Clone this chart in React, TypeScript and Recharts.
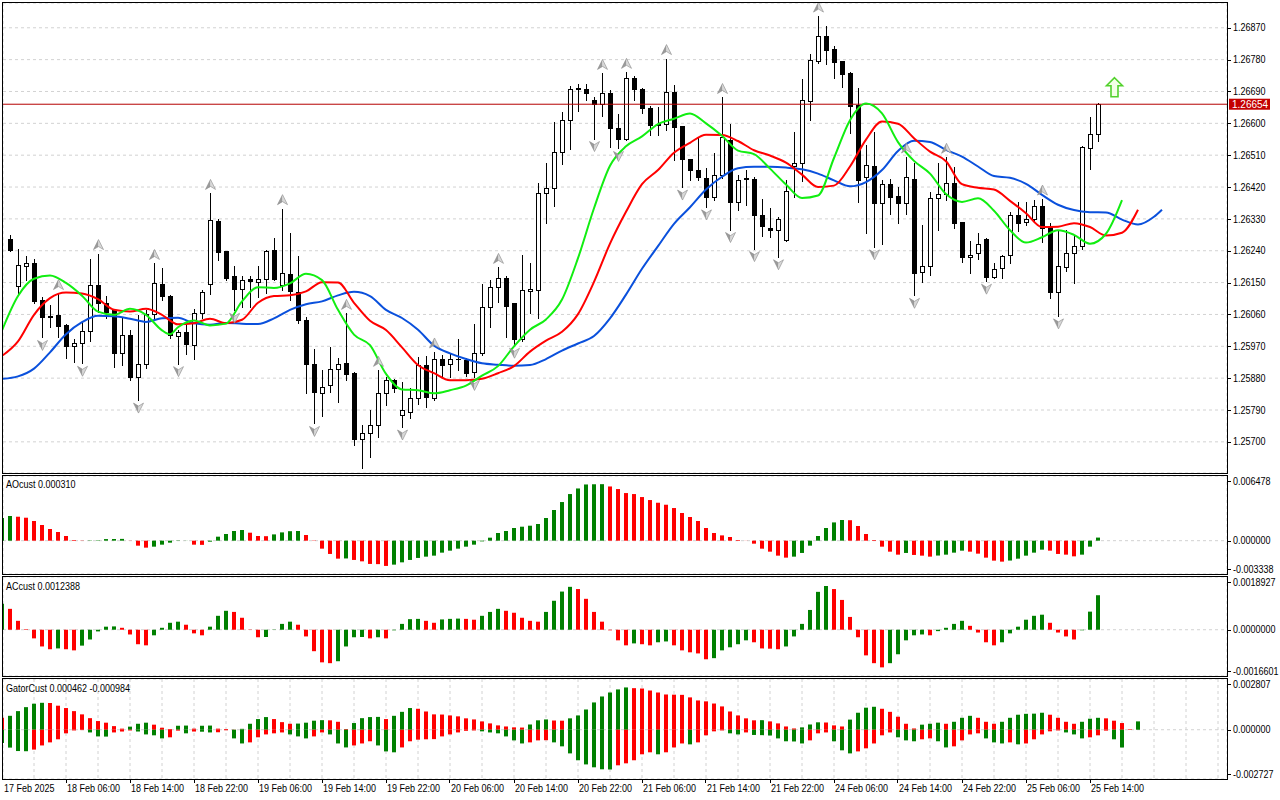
import React from 'react';
import {
  ComposedChart, Bar, Line, Scatter, XAxis, YAxis, CartesianGrid, ReferenceLine, Cell,
} from 'recharts';

const FONT = '"Liberation Sans", Arial, Helvetica, sans-serif';
const GRID = '#d2d2d2';
const HIST_GREEN = '#008000';
const HIST_RED = '#ff0000';

// ---------- H1 candles, bar index i = 1..137 ----------
const OPEN = [
  1.26273, 1.26139, 1.26198, 1.26204, 1.26100, 1.26057, 1.26058, 1.26030, 1.25971, 1.25978,
  1.26012, 1.26143, 1.26091, 1.26072, 1.25952, 1.26001, 1.25882, 1.25921, 1.26061, 1.26147,
  1.26113, 1.26000, 1.26009, 1.25975, 1.26063, 1.26145, 1.26324, 1.26239, 1.26168, 1.26131,
  1.26160, 1.26153, 1.26160, 1.26241, 1.26142, 1.26174, 1.26124, 1.26043, 1.25919, 1.25839,
  1.25860, 1.25907, 1.25922, 1.25895, 1.25707, 1.25724, 1.25749, 1.25839, 1.25876, 1.25775,
  1.25783, 1.25825, 1.25917, 1.25825, 1.25935, 1.25919, 1.25935, 1.25931, 1.25898, 1.25950,
  1.26080, 1.26138, 1.26164, 1.26091, 1.25990, 1.26127, 1.26130, 1.26402, 1.26416, 1.26518,
  1.26609, 1.26696, 1.26698, 1.26665, 1.26656, 1.26687, 1.26587, 1.26555, 1.26727, 1.26698,
  1.26642, 1.26598, 1.26598, 1.26689, 1.26592, 1.26498, 1.26468, 1.26446, 1.26392, 1.26454,
  1.26552, 1.26378, 1.26446, 1.26444, 1.26342, 1.26303, 1.26300, 1.26270, 1.26479, 1.26487,
  1.26662, 1.26776, 1.26846, 1.26810, 1.26776, 1.26743, 1.26651, 1.26447, 1.26479, 1.26376,
  1.26428, 1.26394, 1.26374, 1.26444, 1.26180, 1.26197, 1.26388, 1.26399, 1.26430, 1.26320,
  1.26221, 1.26235, 1.26272, 1.26166, 1.26190, 1.26227, 1.26342, 1.26320, 1.26329, 1.26366,
  1.26307, 1.26124, 1.26194, 1.26235, 1.26254, 1.26529, 1.26571,
];
const HIGH = [
  1.26284, 1.26244, 1.26225, 1.26218, 1.26109, 1.26086, 1.26119, 1.26032, 1.25992, 1.26039,
  1.26218, 1.26232, 1.26112, 1.26074, 1.26049, 1.26015, 1.26058, 1.26072, 1.26204, 1.26190,
  1.26114, 1.26015, 1.26034, 1.26074, 1.26130, 1.26402, 1.26331, 1.26240, 1.26196, 1.26168,
  1.26168, 1.26196, 1.26242, 1.26277, 1.26359, 1.26291, 1.26224, 1.26053, 1.25961, 1.25904,
  1.25967, 1.25938, 1.26063, 1.25897, 1.25747, 1.25789, 1.25902, 1.25882, 1.25877, 1.25869,
  1.25851, 1.25940, 1.25942, 1.25954, 1.25945, 1.25951, 1.25992, 1.25936, 1.26034, 1.26145,
  1.26157, 1.26193, 1.26168, 1.26092, 1.26227, 1.26206, 1.26432, 1.26487, 1.26604, 1.26632,
  1.26705, 1.26710, 1.26711, 1.26673, 1.26741, 1.26694, 1.26626, 1.26744, 1.26733, 1.26699,
  1.26648, 1.26647, 1.26783, 1.26708, 1.26593, 1.26499, 1.26562, 1.26474, 1.26515, 1.26673,
  1.26598, 1.26455, 1.26468, 1.26448, 1.26385, 1.26362, 1.26336, 1.26439, 1.26576, 1.26724,
  1.26795, 1.26903, 1.26875, 1.26819, 1.26777, 1.26744, 1.26701, 1.26538, 1.26576, 1.26441,
  1.26444, 1.26420, 1.26505, 1.26487, 1.26312, 1.26406, 1.26487, 1.26504, 1.26477, 1.26321,
  1.26268, 1.26289, 1.26277, 1.26204, 1.26227, 1.26349, 1.26378, 1.26378, 1.26383, 1.26386,
  1.26317, 1.26298, 1.26298, 1.26282, 1.26536, 1.26618, 1.26658,
];
const LOW = [
  1.26240, 1.26120, 1.26157, 1.26093, 1.25995, 1.26025, 1.25997, 1.25938, 1.25926, 1.25922,
  1.25984, 1.26066, 1.26049, 1.25912, 1.25917, 1.25874, 1.25818, 1.25908, 1.26049, 1.26100,
  1.25993, 1.25921, 1.25947, 1.25935, 1.26049, 1.26119, 1.26213, 1.26157, 1.26072, 1.26080,
  1.26080, 1.26110, 1.26120, 1.26157, 1.26128, 1.26100, 1.26035, 1.25837, 1.25752, 1.25772,
  1.25841, 1.25813, 1.25874, 1.25690, 1.25627, 1.25657, 1.25714, 1.25804, 1.25840, 1.25742,
  1.25767, 1.25808, 1.25799, 1.25818, 1.25883, 1.25883, 1.25902, 1.25885, 1.25882, 1.25945,
  1.26025, 1.26094, 1.25997, 1.25973, 1.25985, 1.26063, 1.26050, 1.26317, 1.26367, 1.26485,
  1.26527, 1.26635, 1.26667, 1.26557, 1.26620, 1.26533, 1.26529, 1.26552, 1.26665, 1.26630,
  1.26567, 1.26567, 1.26581, 1.26496, 1.26420, 1.26441, 1.26439, 1.26364, 1.26383, 1.26445,
  1.26300, 1.26355, 1.26369, 1.26246, 1.26282, 1.26279, 1.26223, 1.26268, 1.26392, 1.26436,
  1.26609, 1.26771, 1.26769, 1.26728, 1.26703, 1.26573, 1.26378, 1.26290, 1.26251, 1.26260,
  1.26345, 1.26317, 1.26345, 1.26114, 1.26152, 1.26171, 1.26298, 1.26383, 1.26303, 1.26208,
  1.26176, 1.26218, 1.26154, 1.26162, 1.26164, 1.26204, 1.26295, 1.26314, 1.26320, 1.26265,
  1.26107, 1.26056, 1.26183, 1.26150, 1.26244, 1.26470, 1.26550,
];
const CLOSE = [
  1.26242, 1.26201, 1.26204, 1.26098, 1.26053, 1.26054, 1.26028, 1.25971, 1.25979, 1.26012,
  1.26143, 1.26091, 1.26067, 1.25950, 1.26001, 1.25882, 1.25919, 1.26061, 1.26150, 1.26112,
  1.26003, 1.26009, 1.25976, 1.26063, 1.26124, 1.26326, 1.26237, 1.26163, 1.26131, 1.26157,
  1.26155, 1.26161, 1.26240, 1.26161, 1.26178, 1.26125, 1.26043, 1.25919, 1.25840, 1.25855,
  1.25906, 1.25919, 1.25893, 1.25709, 1.25724, 1.25749, 1.25839, 1.25874, 1.25851, 1.25791,
  1.25825, 1.25916, 1.25827, 1.25935, 1.25917, 1.25935, 1.25933, 1.25895, 1.25950, 1.26080,
  1.26138, 1.26163, 1.26084, 1.25991, 1.26128, 1.26133, 1.26402, 1.26416, 1.26519, 1.26609,
  1.26696, 1.26700, 1.26687, 1.26656, 1.26687, 1.26587, 1.26556, 1.26727, 1.26698, 1.26642,
  1.26594, 1.26594, 1.26689, 1.26590, 1.26498, 1.26468, 1.26447, 1.26392, 1.26455, 1.26562,
  1.26378, 1.26441, 1.26442, 1.26342, 1.26310, 1.26299, 1.26331, 1.26409, 1.26487, 1.26665,
  1.26780, 1.26846, 1.26807, 1.26774, 1.26739, 1.26648, 1.26439, 1.26482, 1.26376, 1.26428,
  1.26392, 1.26375, 1.26447, 1.26177, 1.26197, 1.26388, 1.26399, 1.26430, 1.26319, 1.26221,
  1.26227, 1.26258, 1.26166, 1.26187, 1.26225, 1.26342, 1.26319, 1.26329, 1.26367, 1.26305,
  1.26124, 1.26196, 1.26235, 1.26254, 1.26532, 1.26571, 1.26654,
];

// ---------- Alligator lines: [bar index, price] ----------
const JAW: [number, number][] = [
  [0, 1.25878], [2, 1.25885], [4, 1.25907], [6, 1.25953], [8, 1.26004], [10, 1.26038], [12, 1.26056],
  [14, 1.26055], [16, 1.26048], [18, 1.26039], [20, 1.26049], [22, 1.26051], [24, 1.26035], [26, 1.26031],
  [28, 1.26036], [30, 1.26034], [32, 1.26033], [34, 1.26049], [36, 1.26073], [38, 1.26089], [40, 1.26097],
  [42, 1.26114], [44, 1.26124], [46, 1.26112], [48, 1.26073], [50, 1.26050], [52, 1.26017], [54, 1.25972],
  [56, 1.25950], [58, 1.25934], [60, 1.25922], [62, 1.25918], [64, 1.25915], [66, 1.25917], [68, 1.25934],
  [70, 1.25958], [72, 1.25978], [74, 1.25999], [76, 1.26049], [78, 1.26116], [80, 1.26189], [82, 1.26253],
  [84, 1.26316], [86, 1.26363], [88, 1.26413], [90, 1.26449], [92, 1.26473], [94, 1.26477], [96, 1.26477],
  [98, 1.26475], [100, 1.26470], [102, 1.26458], [104, 1.26439], [106, 1.26422], [108, 1.26434], [110, 1.26468],
  [112, 1.26522], [114, 1.26551], [116, 1.26547], [118, 1.26525], [120, 1.26506], [122, 1.26478], [124, 1.26451],
  [126, 1.26446], [128, 1.26429], [130, 1.26398], [132, 1.26370], [134, 1.26355], [136, 1.26349], [138, 1.26348],
  [140, 1.26328], [142, 1.26314], [144, 1.26336], [145, 1.26356],
];
const TEETH: [number, number][] = [
  [0, 1.25943], [2, 1.25984], [4, 1.26059], [6, 1.26106], [8, 1.26122], [10, 1.26119], [12, 1.26103],
  [14, 1.26073], [16, 1.26068], [18, 1.26076], [20, 1.26059], [22, 1.26032], [24, 1.26035], [26, 1.26048],
  [28, 1.26035], [30, 1.26045], [32, 1.26093], [34, 1.26112], [36, 1.26114], [38, 1.26125], [40, 1.26151],
  [42, 1.26150], [44, 1.26093], [46, 1.26042], [48, 1.26016], [50, 1.25967], [52, 1.25917], [54, 1.25894],
  [56, 1.25874], [58, 1.25874], [60, 1.25878], [62, 1.25894], [64, 1.25914], [66, 1.25955], [68, 1.25986],
  [70, 1.26011], [72, 1.26061], [74, 1.26152], [76, 1.26260], [78, 1.26350], [80, 1.26428], [82, 1.26468],
  [84, 1.26517], [86, 1.26545], [88, 1.26568], [90, 1.26567], [92, 1.26550], [94, 1.26524], [96, 1.26509],
  [98, 1.26489], [100, 1.26455], [102, 1.26420], [104, 1.26424], [106, 1.26478], [108, 1.26554], [110, 1.26605],
  [112, 1.26599], [114, 1.26558], [116, 1.26520], [118, 1.26493], [120, 1.26428], [122, 1.26418], [124, 1.26413],
  [126, 1.26381], [128, 1.26346], [130, 1.26307], [132, 1.26308], [134, 1.26318], [136, 1.26307], [138, 1.26283],
  [140, 1.26291], [142, 1.26356],
];
const LIPS: [number, number][] = [
  [0, 1.26015], [2, 1.26112], [4, 1.26161], [6, 1.26170], [8, 1.26149], [10, 1.26113], [12, 1.26068],
  [14, 1.26059], [16, 1.26076], [18, 1.26059], [20, 1.26015], [21, 1.26004], [22, 1.26024], [24, 1.26043],
  [26, 1.26029], [28, 1.26034], [30, 1.26097], [32, 1.26137], [34, 1.26135], [36, 1.26148], [38, 1.26175],
  [40, 1.26157], [42, 1.26073], [44, 1.26003], [46, 1.25973], [48, 1.25892], [50, 1.25848], [52, 1.25846],
  [54, 1.25837], [56, 1.25846], [58, 1.25859], [60, 1.25887], [62, 1.25914], [64, 1.25970], [66, 1.26017],
  [68, 1.26046], [70, 1.26102], [72, 1.26219], [74, 1.26360], [76, 1.26480], [78, 1.26535], [80, 1.26563],
  [82, 1.26598], [84, 1.26613], [86, 1.26628], [88, 1.26600], [90, 1.26565], [92, 1.26523], [94, 1.26513],
  [96, 1.26472], [98, 1.26427], [100, 1.26389], [102, 1.26396], [104, 1.26502], [106, 1.26609], [108, 1.26656],
  [110, 1.26628], [112, 1.26547], [114, 1.26494], [116, 1.26458], [118, 1.26400], [120, 1.26378], [122, 1.26388],
  [124, 1.26353], [126, 1.26298], [128, 1.26263], [130, 1.26278], [132, 1.26298], [134, 1.26285], [136, 1.26260],
  [138, 1.26288], [140, 1.26383],
];

// ---------- Fractals (bar indices), signal arrow, last price ----------
const FRACTAL_UP = [7, 12, 19, 26, 35, 43, 47, 54, 62, 75, 78, 83, 90, 102, 113, 118, 130];
const FRACTAL_DOWN = [5, 10, 17, 22, 29, 39, 50, 59, 64, 74, 77, 85, 88, 91, 94, 97, 109, 114, 123, 132];
const SIGNAL_UP: [number, number] = [139, 1.26702];
const LAST_PRICE = 1.26654;

// ---------- Oscillators, bar index i = 0.. ----------
const AO = [
  0.00227, 0.00247, 0.0024, 0.0023, 0.00197, 0.00157, 0.00117, 0.00087, 0.00047, 0.00007,
  0.00002, 0.00003, 0.00004, 0.00016, 0.00017, 0.00018, 0.00001, -0.0005, -0.0007, -0.0006,
  -0.0004, -0.0002, -0.00003, 0.00001, -0.0004, -0.00042, -0.0001, 0.0004, 0.00067, 0.00097,
  0.00107, 0.0008, 0.00047, 0.00045, 0.00063, 0.00083, 0.00095, 0.00097, 0.00057, 0.00003,
  -0.0008, -0.00133, -0.0018, -0.00178, -0.00193, -0.00207, -0.00233, -0.00235, -0.00253, -0.0024,
  -0.00217, -0.00193, -0.00173, -0.0016, -0.0015, -0.0012, -0.001, -0.0008, -0.0006, -0.0004,
  -0.00007, 0.0003, 0.00077, 0.00097, 0.00127, 0.0014, 0.0015, 0.00167, 0.00227, 0.00307,
  0.00387, 0.00467, 0.00523, 0.00563, 0.00565, 0.00566, 0.00543, 0.00517, 0.00477, 0.00467,
  0.00437, 0.00407, 0.0038, 0.0036, 0.00327, 0.00277, 0.00237, 0.00197, 0.00127, 0.00077,
  0.00053, 0.00037, 0.00007, 0.00001, -0.0003, -0.0008, -0.0011, -0.0015, -0.0017, -0.0016,
  -0.00123, -0.0005, 0.00047, 0.00127, 0.00183, 0.00207, 0.00205, 0.00147, 0.00067, 0.00007,
  -0.0006, -0.0011, -0.0014, -0.00123, -0.00143, -0.0015, -0.0016, -0.00149, -0.0014, -0.0012,
  -0.001, -0.0011, -0.0013, -0.0017, -0.002, -0.0021, -0.00199, -0.0018, -0.0015, -0.0012,
  -0.0009, -0.001, -0.00133, -0.0014, -0.00157, -0.0014, -0.0006, 0.00031,
];
const AC = [
  0.00093, 0.00075, 0.00032, 0.00002, -0.00031, -0.0006, -0.0007, -0.00067, -0.0007, -0.00074,
  -0.00057, -0.00035, -0.00006, 0.00011, 0.00012, 0.00007, -0.00017, -0.00052, -0.00056, -0.0002,
  0.00007, 0.00025, 0.00029, 0.00018, -0.00013, -0.0002, 0.00011, 0.0005, 0.00068, 0.00064,
  0.00043, -0.00001, -0.00027, -0.00026, -0.00001, 0.00021, 0.00029, 0.00018, -0.00024, -0.00077,
  -0.00117, -0.0012, -0.00113, -0.0006, -0.00027, -0.00026, -0.00031, -0.00027, -0.00031, -0.00002,
  0.00021, 0.00038, 0.00039, 0.00032, 0.00025, 0.00037, 0.00039, 0.0004, 0.00039, 0.00036,
  0.0005, 0.00064, 0.00075, 0.00068, 0.00061, 0.00043, 0.00032, 0.00029, 0.00064, 0.00104,
  0.00137, 0.00154, 0.00146, 0.00111, 0.00064, 0.00029, -0.00002, -0.00038, -0.00056, -0.00049,
  -0.00052, -0.00056, -0.00045, -0.00042, -0.00056, -0.00074, -0.00081, -0.00085, -0.00106, -0.00102,
  -0.00074, -0.00063, -0.00052, -0.00038, -0.00045, -0.00067, -0.00068, -0.0007, -0.0006, -0.00024,
  0.00021, 0.00071, 0.00136, 0.00157, 0.00146, 0.00107, 0.00046, -0.00027, -0.00092, -0.0012,
  -0.00135, -0.0012, -0.00088, -0.00038, -0.0002, -0.00017, -0.0002, -0.00005, 0.00007, 0.00021,
  0.00032, 0.00014, -0.0001, -0.00045, -0.00056, -0.00045, -0.00013, 0.00011, 0.00036, 0.0005,
  0.00054, 0.00025, -0.0001, -0.00024, -0.00035, -0.00002, 0.00065, 0.0012388,
];
const GATOR_UP = [
  0.00066, 0.00077, 0.00103, 0.00125, 0.00144, 0.00149, 0.00148, 0.00133, 0.0012, 0.00103,
  0.00085, 0.00064, 0.00048, 0.00039, 0.0002, 0.00006, 0.00017, 0.00033, 0.00039, 0.00028,
  0.00011, 0.00004, 0.00022, 0.00023, 0.00006, 0.00022, 0.00023, 0.00006, 0.00004, 0.00001,
  0.00005, 0.00033, 0.00059, 0.0007, 0.00059, 0.00042, 0.00033, 0.00034, 0.00039, 0.0005,
  0.00053, 0.00052, 0.00044, 0.00004, 0.00037, 0.00064, 0.0007, 0.00071, 0.00059, 0.00077,
  0.00099, 0.0012, 0.00116, 0.00101, 0.00085, 0.00084, 0.00079, 0.00074, 0.00063, 0.00057,
  0.00046, 0.00035, 0.00024, 0.00018, 0.00013, 0.00012, 0.00029, 0.00052, 0.00057, 0.00051,
  0.0005, 0.00063, 0.00079, 0.00112, 0.00151, 0.00184, 0.00206, 0.00223, 0.00234, 0.0023,
  0.00228, 0.00217, 0.00206, 0.00195, 0.00194, 0.00193, 0.00179, 0.00162, 0.00157, 0.00145,
  0.00129, 0.00101, 0.00079, 0.00063, 0.00052, 0.00053, 0.00046, 0.00035, 0.00018, 0.00007,
  0.00013, 0.00029, 0.00041, 0.0004, 0.00024, 0.00018, 0.00056, 0.00094, 0.00122, 0.00127,
  0.00116, 0.00099, 0.00072, 0.00033, 0.00007, 0.00028, 0.00033, 0.00039, 0.00033, 0.00044,
  0.00066, 0.00077, 0.00066, 0.00044, 0.00033, 0.00044, 0.00066, 0.00083, 0.00088, 0.00089,
  0.00094, 0.00083, 0.00066, 0.00044, 0.00033, 0.00044, 0.00061, 0.00066, 0.00063, 0.0005,
  0.00037, 0.00003, 0.000462,
];
const GATOR_DOWN = [
  -0.00074, -0.00099, -0.00118, -0.00119, -0.0011, -0.00087, -0.0007, -0.00053, -0.0002, -0.00004,
  -0.00002, -0.00015, -0.00037, -0.00038, -0.00015, -0.0001, -0.00004, -0.0001, -0.00026, -0.00031,
  -0.00048, -0.00042, -0.00005, -0.0002, -0.0001, -0.00011, -0.00015, -0.00014, -0.00003, -0.00048,
  -0.00076, -0.0007, -0.00042, -0.00026, -0.0002, -0.00015, -0.00026, -0.00037, -0.00048, -0.00037,
  -0.00015, -0.00026, -0.00076, -0.00098, -0.00087, -0.00076, -0.00064, -0.00087, -0.0012, -0.00125,
  -0.00098, -0.00064, -0.00055, -0.00053, -0.00052, -0.00037, -0.00026, -0.00015, -0.00006, -0.00004,
  -0.00009, -0.00015, -0.0002, -0.00037, -0.00059, -0.00076, -0.0007, -0.00059, -0.00058, -0.0007,
  -0.00092, -0.00131, -0.00169, -0.00192, -0.00208, -0.00219, -0.0022, -0.00197, -0.00186, -0.00169,
  -0.00136, -0.00125, -0.00136, -0.00125, -0.00098, -0.00076, -0.00081, -0.0007, -0.00031, -0.00009,
  -0.00004, -0.0002, -0.00026, -0.00015, -0.00029, -0.0003, -0.00032, -0.00048, -0.00064, -0.00065,
  -0.00076, -0.00059, -0.0002, -0.00015, -0.00064, -0.00114, -0.00131, -0.0012, -0.00103, -0.00076,
  -0.00031, -0.00015, -0.00042, -0.00059, -0.00064, -0.00053, -0.00048, -0.00064, -0.00098, -0.00092,
  -0.00059, -0.00026, -0.0002, -0.00048, -0.0007, -0.00076, -0.0007, -0.00081, -0.00076, -0.00053,
  -0.00026, -0.00009, -0.00004, -0.00015, -0.00026, -0.00048, -0.00042, -0.00031, -0.00005, -0.00053,
  -0.000984,
];

// ---------- Axes ----------
const PRICE_TICKS = [
  1.257, 1.2579, 1.2588, 1.2597, 1.2606, 1.2615, 1.2624, 1.2633, 1.2642, 1.2651, 1.266, 1.2669, 1.2678, 1.2687,
];
const PRICE_DOMAIN: [number, number] = [1.25612, 1.2694];
const AO_RANGE: [number, number] = [-0.003338, 0.006478];
const AC_RANGE: [number, number] = [-0.0016601, 0.0018927];
const GATOR_RANGE: [number, number] = [-0.002727, 0.002807];
const TIME_LABELS: [number, string][] = [
  [0, '17 Feb 2025'], [8, '18 Feb 06:00'], [16, '18 Feb 14:00'], [24, '18 Feb 22:00'],
  [32, '19 Feb 06:00'], [40, '19 Feb 14:00'], [48, '19 Feb 22:00'], [56, '20 Feb 06:00'],
  [64, '20 Feb 14:00'], [72, '20 Feb 22:00'], [80, '21 Feb 06:00'], [88, '21 Feb 14:00'],
  [96, '21 Feb 22:00'], [104, '24 Feb 06:00'], [112, '24 Feb 14:00'], [120, '24 Feb 22:00'],
  [128, '25 Feb 06:00'], [136, '25 Feb 14:00'],
];

const X_DOMAIN: [number, number] = [0.125, 153.125];
const X_TICKS: number[] = [0.125];
for (let t = 4; t <= 152; t += 4) X_TICKS.push(t);
const TIME_MAP: Record<number, string> = {};
TIME_LABELS.forEach(([i, s]) => { TIME_MAP[i] = s; });

// ---------- Derived tables ----------
const mainRows: any[] = [];
for (let i = 0; i <= 145; i++) {
  const k = i - 1;
  const has = k >= 0 && k < OPEN.length;
  mainRows.push({
    i,
    o: has ? OPEN[k] : null, h: has ? HIGH[k] : null, l: has ? LOW[k] : null, c: has ? CLOSE[k] : null,
    jaw: null, teeth: null, lips: null,
  });
}
JAW.forEach(([i, v]) => { mainRows[i].jaw = v; });
TEETH.forEach(([i, v]) => { mainRows[i].teeth = v; });
LIPS.forEach(([i, v]) => { mainRows[i].lips = v; });

const upRows = FRACTAL_UP.map((i) => ({ i, fu: HIGH[i - 1] }));
const downRows = FRACTAL_DOWN.map((i) => ({ i, fd: LOW[i - 1] }));
const signalRows = [{ i: SIGNAL_UP[0], s: SIGNAL_UP[1] }];

const aoRows = AO.map((v, i) => ({ i, v, up: i === 0 ? true : v > AO[i - 1] }));
const acRows = AC.map((v, i) => ({ i, v, up: i === 0 ? true : v > AC[i - 1] }));
const gatorRows = GATOR_UP.map((u, i) => {
  const d = i < GATOR_DOWN.length ? GATOR_DOWN[i] : null;
  return {
    i, u, d,
    uUp: i === 0 ? false : u > GATOR_UP[i - 1],
    dUp: d == null ? false : i === 0 ? true : Math.abs(d) > Math.abs(GATOR_DOWN[i - 1]),
  };
});

const candleRange = (d: any) => (d.o == null ? null : [d.l, d.h]);

// ---------- Shapes ----------
const Candle = (props: any) => {
  const { x, y, width, height, payload } = props;
  if (!payload || payload.o == null || !isFinite(y) || !isFinite(height)) return <g />;
  const { o, h, l, c } = payload;
  const top = Math.min(y, y + height);
  const bot = Math.max(y, y + height);
  const span = h - l;
  const py = (p: number) => (span > 0 ? top + ((h - p) / span) * (bot - top) : top);
  const cx = Math.floor(x + width / 2 + 0.001) + 0.5;
  const yo = py(o);
  const yc = py(c);
  const bt = Math.round(Math.min(yo, yc));
  const bb = Math.round(Math.max(yo, yc));
  const bull = c >= o;
  return (
    <g>
      <line x1={cx} x2={cx} y1={Math.round(top)} y2={Math.round(bot) + 1} stroke="#000" strokeWidth={1} />
      {bull ? (
        <rect x={cx - 2} y={bt + 0.5} width={4} height={Math.max(bb - bt, 1)} fill="#fff" stroke="#000" strokeWidth={1} />
      ) : (
        <rect x={cx - 2.5} y={bt} width={5} height={Math.max(bb - bt + 1, 1)} fill="#000" />
      )}
    </g>
  );
};

const arrowGlyph = (x: number, y: number, s: number) => {
  const tip = `${x},${y - 5 * s}`;
  const notch = `${x},${y + 2 * s}`;
  const lw = `${x - 5},${y + 5 * s}`;
  const rw = `${x + 5},${y + 5 * s}`;
  return (
    <g>
      <polygon points={`${tip} ${notch} ${lw}`} fill="#9a9a9a" />
      <polygon points={`${tip} ${rw} ${notch}`} fill="#d8d8d8" />
      <polygon points={`${tip} ${rw} ${notch} ${lw}`} fill="none" stroke="#8a8a8a" strokeWidth={0.6} />
    </g>
  );
};
const FractalUp = (p: any) => (p.cx == null || !isFinite(p.cy) ? <g /> : arrowGlyph(p.cx + 0.5, p.cy - 9, 1));
const FractalDown = (p: any) => (p.cx == null || !isFinite(p.cy) ? <g /> : arrowGlyph(p.cx + 0.5, p.cy + 8, -1));

const SignalArrow = (p: any) => {
  if (p.cx == null || !isFinite(p.cy)) return <g />;
  const x = p.cx + 0.5;
  const y = p.cy;
  const pts = [[0, -9.5], [8, -1.5], [3.5, -1.5], [3.5, 9.5], [-3.5, 9.5], [-3.5, -1.5], [-8, -1.5]]
    .map(([dx, dy]) => `${x + dx},${y + dy}`).join(' ');
  return <polygon points={pts} fill="#f3ffe6" stroke="#52d12c" strokeWidth={1.6} />;
};

const PriceTag = (props: any) => {
  const vb = props.viewBox || {};
  if (vb.x == null) return null;
  const x0 = vb.x + vb.width + 2;
  const y0 = vb.y;
  return (
    <g>
      <rect x={x0} y={y0 - 5.5} width={41} height={11} fill="#c40000" />
      <text x={x0 + 3} y={y0} dy="0.36em" fontSize={10} fontFamily={FONT} fill="#fff">
        {LAST_PRICE.toFixed(5)}
      </text>
    </g>
  );
};

const AxisTick = (props: any) => {
  const { x, y, payload, digits, lo, hi } = props;
  const v = payload.value as number;
  let yy = y;
  if (hi !== undefined && v === hi) yy += 5;
  if (lo !== undefined && v === lo) yy -= 5;
  const ly = Math.round(yy) + 0.5;
  return (
    <g>
      <line x1={x - 6} x2={x - 2} y1={ly} y2={ly} stroke="#000" />
      <text transform={`translate(${x},${yy}) scale(0.9,1)`} dy="0.36em" fontSize={10} fontFamily={FONT} fill="#000">
        {v.toFixed(digits)}
      </text>
    </g>
  );
};

const TimeTick = (props: any) => {
  const { x, y, payload } = props;
  const idx = Math.round(payload.value);
  const label = TIME_MAP[idx];
  if (!label) return <g />;
  const lx = Math.floor(x) + 0.5;
  return (
    <g>
      {idx > 0 && <line x1={lx} x2={lx} y1={y} y2={y + 4} stroke="#000" />}
      <text transform={`translate(${x + 1},${y + 12.5}) scale(0.9,1)`} fontSize={10} fontFamily={FONT} fill="#000">
        {label}
      </text>
    </g>
  );
};

const hiddenX = (
  <XAxis dataKey="i" type="number" domain={X_DOMAIN} allowDataOverflow ticks={X_TICKS} interval={0}
    height={0} tick={false} tickLine={false} axisLine={false} />
);

const subY = (range: [number, number], digits: number) => (
  <YAxis orientation="right" type="number" domain={range} allowDataOverflow ticks={[range[0], 0, range[1]]}
    interval={0} width={53} tickSize={4} tickMargin={2} tickLine={false} axisLine={false}
    tick={(p: any) => <AxisTick {...p} digits={digits} lo={range[0]} hi={range[1]} />} />
);

const abs = (top: number): React.CSSProperties => ({ position: 'absolute', left: 0, top });

export default function App() {
  const aoLast = AO[AO.length - 1];
  const acLast = AC[AC.length - 1];
  const gUpLast = GATOR_UP[GATOR_UP.length - 1];
  const gDnLast = GATOR_DOWN[GATOR_DOWN.length - 1];
  return (
    <div style={{ position: 'absolute', left: 0, top: 0, width: 1280, height: 800, background: '#fff', overflow: 'hidden' }}>
      {/* Main price panel */}
      <div style={abs(0)}>
        <ComposedChart width={1280} height={474} data={mainRows} margin={{ top: 3, right: 0, bottom: 1, left: 3 }}>
          <CartesianGrid stroke={GRID} strokeDasharray="3 3" />
          {hiddenX}
          <YAxis orientation="right" type="number" domain={PRICE_DOMAIN} allowDataOverflow ticks={PRICE_TICKS}
            interval={0} width={53} tickSize={4} tickMargin={2} tickLine={false} axisLine={false}
            tick={(p: any) => <AxisTick {...p} digits={5} />} />
          <ReferenceLine y={LAST_PRICE} stroke="#b40000" strokeWidth={1} label={<PriceTag />} />
          <Bar dataKey={candleRange} barSize={4} shape={Candle} isAnimationActive={false} />
          <Line type="monotone" dataKey="jaw" stroke="#0a50dc" strokeWidth={2} dot={false} activeDot={false} connectNulls isAnimationActive={false} />
          <Line type="monotone" dataKey="teeth" stroke="#ff0000" strokeWidth={2} dot={false} activeDot={false} connectNulls isAnimationActive={false} />
          <Line type="monotone" dataKey="lips" stroke="#11ee11" strokeWidth={2} dot={false} activeDot={false} connectNulls isAnimationActive={false} />
          <Scatter data={upRows} dataKey="fu" shape={FractalUp} isAnimationActive={false} />
          <Scatter data={downRows} dataKey="fd" shape={FractalDown} isAnimationActive={false} />
          <Scatter data={signalRows} dataKey="s" shape={SignalArrow} isAnimationActive={false} />
        </ComposedChart>
      </div>

      {/* AO panel */}
      <div style={abs(476)}>
        <ComposedChart width={1280} height={98} data={aoRows} margin={{ top: 0, right: 0, bottom: 0, left: 3 }}>
          <CartesianGrid stroke={GRID} strokeDasharray="3 3" />
          {hiddenX}
          {subY(AO_RANGE, 6)}
          <Bar dataKey="v" barSize={4} isAnimationActive={false}>
            {aoRows.map((r, k) => <Cell key={k} fill={r.up ? HIST_GREEN : HIST_RED} />)}
          </Bar>
        </ComposedChart>
      </div>

      {/* AC panel */}
      <div style={abs(577)}>
        <ComposedChart width={1280} height={99} data={acRows} margin={{ top: 0, right: 0, bottom: 0, left: 3 }}>
          <CartesianGrid stroke={GRID} strokeDasharray="3 3" />
          {hiddenX}
          {subY(AC_RANGE, 7)}
          <Bar dataKey="v" barSize={4} isAnimationActive={false}>
            {acRows.map((r, k) => <Cell key={k} fill={r.up ? HIST_GREEN : HIST_RED} />)}
          </Bar>
        </ComposedChart>
      </div>

      {/* Gator panel + time axis */}
      <div style={abs(679)}>
        <ComposedChart width={1280} height={121} data={gatorRows} stackOffset="sign" margin={{ top: 0, right: 0, bottom: 0, left: 3 }}>
          <CartesianGrid stroke={GRID} strokeDasharray="3 3" />
          <XAxis dataKey="i" type="number" domain={X_DOMAIN} allowDataOverflow ticks={X_TICKS} interval={0}
            height={21} tickSize={0} tickMargin={0} tickLine={false} axisLine={false} tick={TimeTick} />
          {subY(GATOR_RANGE, 6)}
          <Bar dataKey="u" stackId="g" barSize={4} isAnimationActive={false}>
            {gatorRows.map((r, k) => <Cell key={k} fill={r.uUp ? HIST_GREEN : HIST_RED} />)}
          </Bar>
          <Bar dataKey="d" stackId="g" barSize={4} isAnimationActive={false}>
            {gatorRows.map((r, k) => <Cell key={k} fill={r.dUp ? HIST_GREEN : HIST_RED} />)}
          </Bar>
        </ComposedChart>
      </div>

      {/* Panel frames and indicator captions */}
      <svg width={1280} height={800} style={{ position: 'absolute', left: 0, top: 0, pointerEvents: 'none' }}>
        <rect x={2.5} y={2.5} width={1225} height={471} fill="none" stroke="#000" />
        <rect x={2.5} y={475.5} width={1225} height={99} fill="none" stroke="#000" />
        <rect x={2.5} y={576.5} width={1225} height={100} fill="none" stroke="#000" />
        <rect x={2.5} y={678.5} width={1225} height={101} fill="none" stroke="#000" />
        <g fontSize={10} fontFamily={FONT} fill="#000">
          <text transform="translate(6,488) scale(0.9,1)">{`AOcust ${aoLast.toFixed(6)}`}</text>
          <text transform="translate(6,590) scale(0.9,1)">{`ACcust ${acLast.toFixed(7)}`}</text>
          <text transform="translate(6,692) scale(0.9,1)">{`GatorCust ${gUpLast.toFixed(6)} ${gDnLast.toFixed(6)}`}</text>
        </g>
      </svg>
    </div>
  );
}
